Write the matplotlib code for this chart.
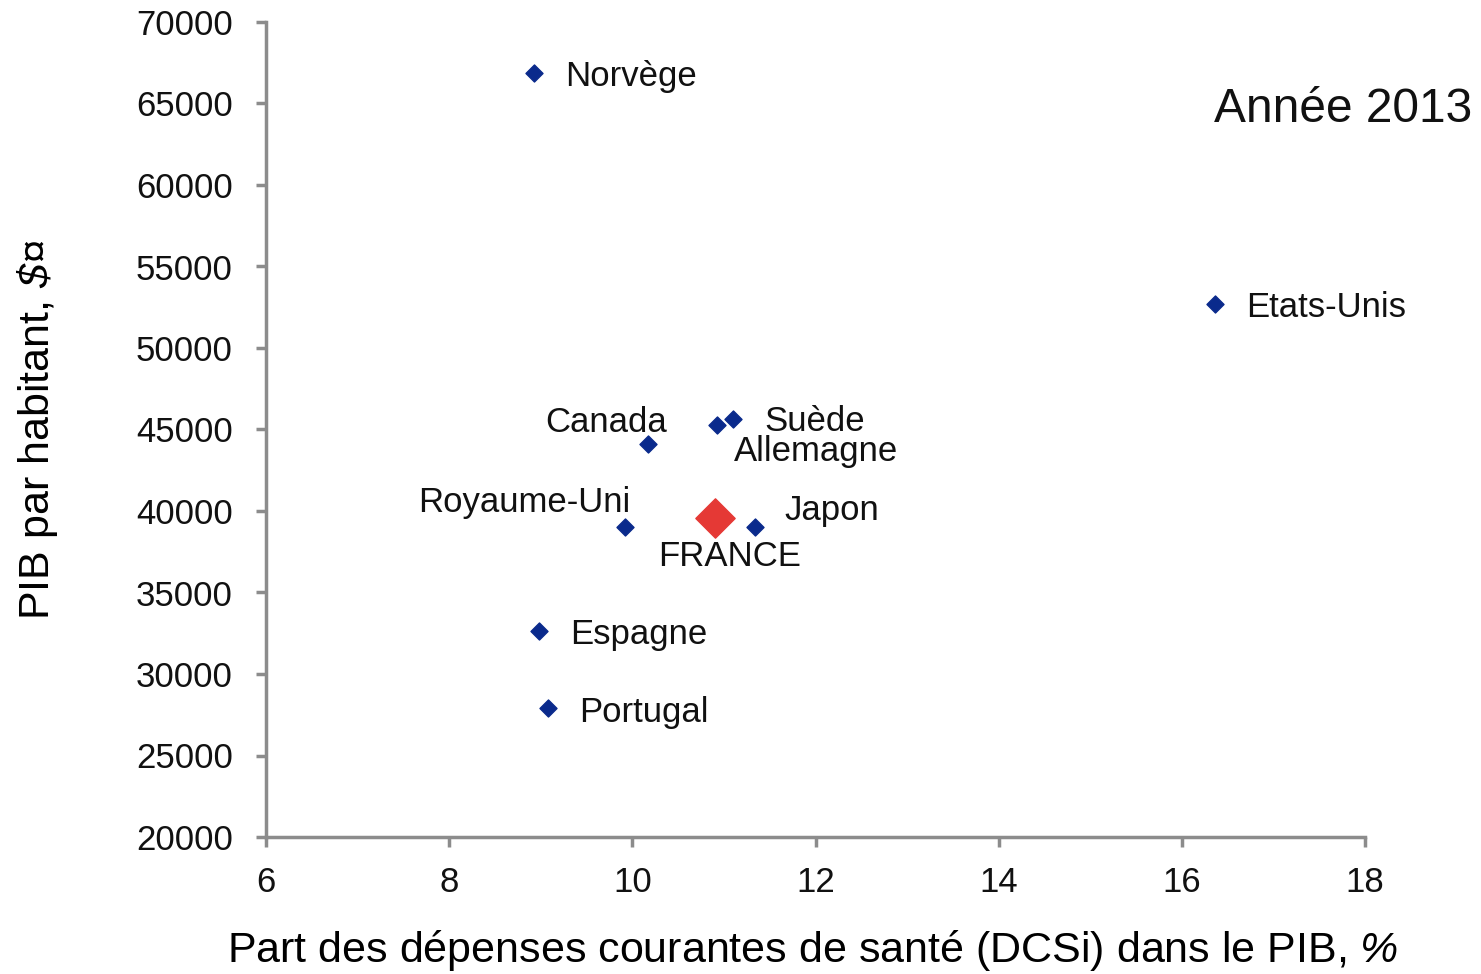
import matplotlib
matplotlib.use('Agg')
import matplotlib.pyplot as plt

plt.rcParams['font.family'] = ['Liberation Sans', 'DejaVu Sans']
# math text used only for the italic units: its "rm" face is italic
plt.rcParams['mathtext.fontset'] = 'custom'
plt.rcParams['mathtext.rm'] = 'Liberation Sans:italic'
plt.rcParams['mathtext.it'] = 'Liberation Sans:italic'

# Part des DCSi dans le PIB (%) et PIB par habitant ($)
countries = ['Norvège', 'Etats-Unis', 'Canada', 'Suède', 'Allemagne',
             'Royaume-Uni', 'Japon', 'Espagne', 'Portugal']
dcsi = [8.93, 16.36, 10.17, 11.10, 10.92, 9.92, 11.34, 8.98, 9.08]
pib = [66900, 52700, 44100, 45650, 45300, 39000, 39000, 32650, 27900]
france_dcsi = 10.90
france_pib = 39550

# label offsets in pixels (dx, dy, ha)
offsets = {
    'Norvège': (31, -4, 'left'),
    'Etats-Unis': (31, -4, 'left'),
    'Canada': (19, 22, 'right'),
    'Suède': (31, -3, 'left'),
    'Allemagne': (17, -27, 'left'),
    'Royaume-Uni': (5, 25, 'right'),
    'Japon': (29, 17, 'left'),
    'Espagne': (31, -4, 'left'),
    'Portugal': (31, -4, 'left'),
}

grey = '#8c8c8c'
fig = plt.figure(figsize=(14.81, 9.74), dpi=100)
ax = fig.add_axes([266 / 1481, 1 - 837 / 974, (1365 - 266) / 1481, (837 - 22) / 974])

ax.scatter(dcsi, pib, marker='D', s=75, color='#0a2a8c', zorder=3)
ax.scatter([france_dcsi], [france_pib], marker='D', s=400, color='#e53935', zorder=3)

for name, x, y in zip(countries, dcsi, pib):
    dx, dy, ha = offsets[name]
    ax.annotate(name, (x, y), xytext=(dx, dy), textcoords='offset pixels',
                ha=ha, va='center', fontsize=25, color='#111111')
ax.annotate('FRANCE', (france_dcsi, france_pib), xytext=(15, -38),
            textcoords='offset pixels', ha='center', va='center',
            fontsize=25, color='#111111')

ax.set_xlim(6, 18)
ax.set_ylim(20000, 70000)
ax.set_xticks(range(6, 19, 2))
ax.set_yticks(range(20000, 70001, 5000))

for side in ['top', 'right']:
    ax.spines[side].set_visible(False)
for side in ['left', 'bottom']:
    ax.spines[side].set_color(grey)
    ax.spines[side].set_linewidth(2.5)
ax.tick_params(axis='both', direction='out', length=7, width=2.5, color=grey,
               labelsize=25, labelcolor='#111111')
ax.tick_params(axis='y', pad=17)
ax.tick_params(axis='x', pad=14)

ax.set_xlabel('Part des dépenses courantes de santé (DCSi) dans le PIB, $\\%$',
              fontsize=31, va='center')
ax.set_ylabel('PIB par habitant, $\\$¤$', fontsize=31, va='center')
ax.xaxis.set_label_coords(0.4977, -0.1387)
ax.yaxis.set_label_coords(-0.2075, 0.5)

fig.text(1214 / 1481, 1 - 109 / 974, 'Année 2013', fontsize=34.5,
         ha='left', va='center', color='#111111')

fig.savefig('out.png', dpi=100)
